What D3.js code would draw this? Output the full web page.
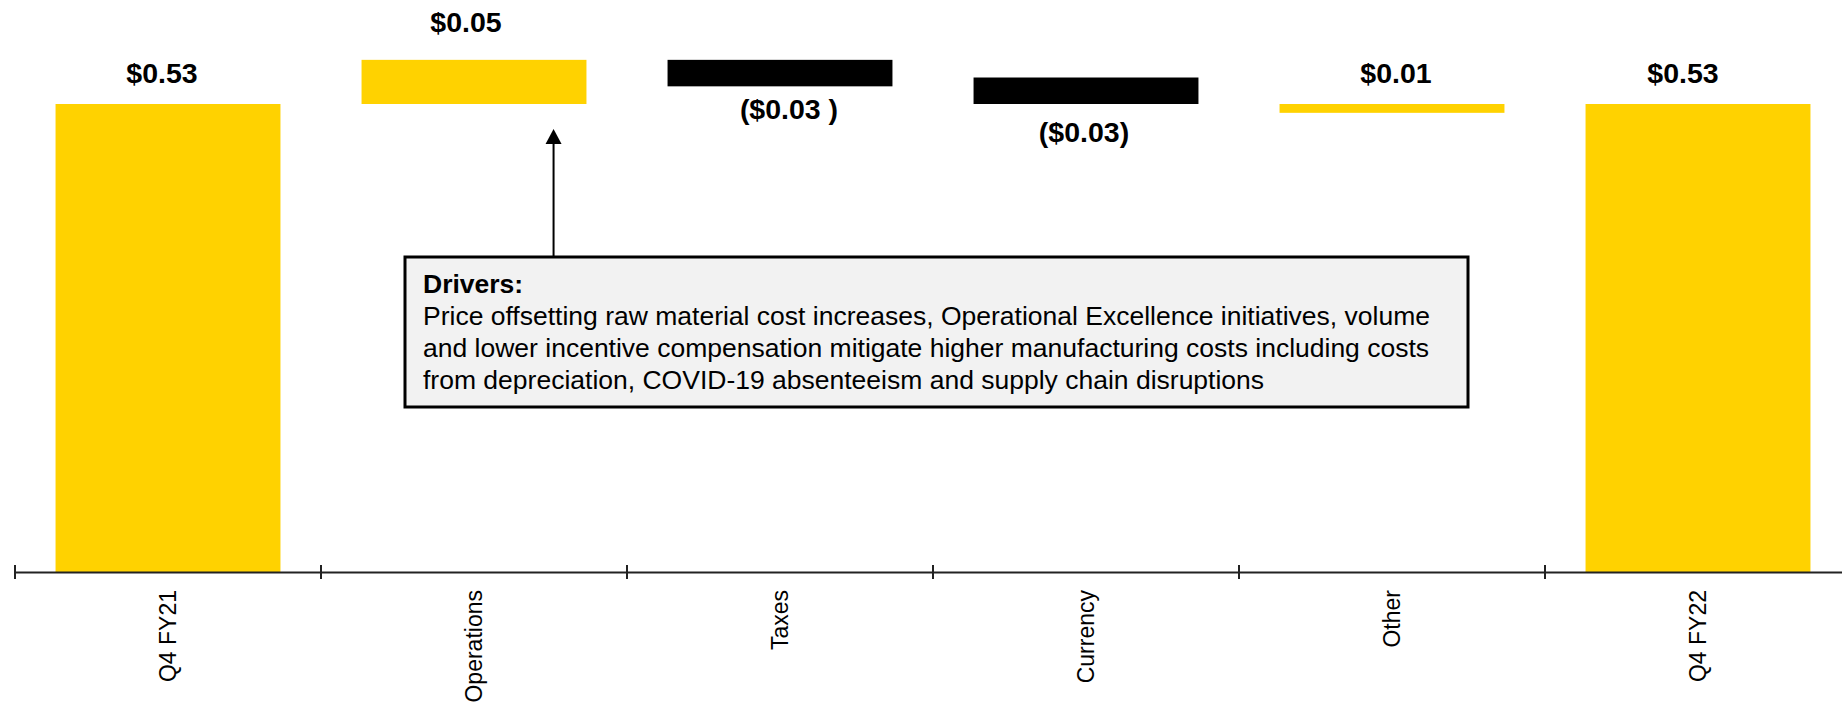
<!DOCTYPE html>
<html>
<head>
<meta charset="utf-8">
<script src="https://cdn.jsdelivr.net/npm/d3@7"></script>
<style>
  body { margin: 0; background: #fff; }
  svg { display: block; font-family: Arial, "Liberation Sans", sans-serif; }
</style>
</head>
<body>
<script>
// EPS bridge data
const categories = ['Q4 FY21', 'Operations', 'Taxes', 'Currency', 'Other', 'Q4 FY22'];
const barLow = [0, 0.53, 0.55, 0.53, 0.52, 0];
const barHigh = [0.53, 0.58, 0.58, 0.56, 0.53, 0.53];
const barKind = ['total', 'up', 'down', 'down', 'up', 'total'];
const valueLabels = ['$0.53', '$0.05', '($0.03 )', '($0.03)', '$0.01', '$0.53'];

const driverTitle = 'Drivers:';
const driverLines = [
    'Price offsetting raw material cost increases, Operational Excellence initiatives, volume',
    'and lower incentive compensation mitigate higher manufacturing costs including costs',
    'from depreciation, COVID-19 absenteeism and supply chain disruptions'
];

// small hand nudges of the value labels, like the original text boxes
const labelNudge = [[-6, 21], [-8, 28], [9, 33], [-2, 38], [4, 21], [-15, 21]];

const width = 1842, height = 705;
const axisY = 572;
const step = 306;
const left = 15;

const svg = d3.select('body').append('svg')
    .attr('width', width)
    .attr('height', height);

const color = d3.scaleOrdinal()
    .domain(['total', 'up', 'down'])
    .range(['#FFD200', '#FFD200', '#000000']);

// bars sit inside each category slot
const x = d3.scaleBand()
    .domain(categories)
    .range([left, left + step * categories.length])
    .paddingInner(0.265)
    .paddingOuter(0.1325);

// slots for the axis (ticks at the slot edges)
const xSlot = d3.scaleBand()
    .domain(categories)
    .range([left, left + step * categories.length]);

const y = d3.scaleLinear().domain([0, 0.53]).range([axisY, 104]);

const data = categories.map((c, i) => ({
    name: c, low: barLow[i], high: barHigh[i], kind: barKind[i], label: valueLabels[i], nudge: labelNudge[i]
}));

svg.append('g').selectAll('rect')
    .data(data)
    .join('rect')
    .attr('x', d => x(d.name))
    .attr('width', x.bandwidth())
    .attr('y', d => y(d.high))
    .attr('height', d => y(d.low) - y(d.high))
    .attr('fill', d => color(d.kind));

// value labels: above for up / totals, below for down
svg.append('g').selectAll('text')
    .data(data)
    .join('text')
    .attr('x', d => x(d.name) + x.bandwidth() / 2 + d.nudge[0])
    .attr('y', d => d.kind === 'down' ? y(d.low) + d.nudge[1] : y(d.high) - d.nudge[1])
    .attr('text-anchor', 'middle')
    .attr('font-size', '28.5px')
    .attr('font-weight', 'bold')
    .attr('fill', '#000')
    .style('white-space', 'pre')
    .text(d => d.label);

// x axis
const xaxis = d3.axisBottom(xSlot).tickSize(0).tickSizeOuter(0);
const g_xaxis = svg.append('g')
    .attr('transform', `translate(0,${axisY})`)
    .call(xaxis);

g_xaxis.select('.domain')
    .attr('stroke', '#222')
    .attr('stroke-width', 2);

g_xaxis.selectAll('.tick text')
    .attr('transform', 'rotate(-90)')
    .attr('x', -18)
    .attr('y', 0)
    .attr('dy', '0.35em')
    .attr('text-anchor', 'end')
    .attr('font-size', '23px')
    .attr('font-family', 'Arial, "Liberation Sans", sans-serif')
    .attr('fill', '#000');

// edge ticks between categories
const edges = categories.map(c => xSlot(c)).concat([xSlot.range()[1]]);
g_xaxis.selectAll('.edge')
    .data(edges)
    .join('line')
    .attr('class', 'edge')
    .attr('x1', d => d).attr('x2', d => d)
    .attr('y1', -7).attr('y2', 7)
    .attr('stroke', '#222')
    .attr('stroke-width', 2);

// drivers call-out with arrow pointing at operations bar
const arrowX = xSlot('Operations') + xSlot.bandwidth() * 0.76;
const box = { x: 405, y: 257, w: 1063, h: 150 };
const tipY = y(0.53) + 25;

svg.append('line')
    .attr('x1', arrowX).attr('x2', arrowX)
    .attr('y1', box.y).attr('y2', tipY + 12)
    .attr('stroke', '#000')
    .attr('stroke-width', 2);

svg.append('path')
    .attr('d', `M${arrowX},${tipY} L${arrowX - 8},${tipY + 15} L${arrowX + 8},${tipY + 15} Z`)
    .attr('fill', '#000');

svg.append('rect')
    .attr('x', box.x).attr('y', box.y)
    .attr('width', box.w).attr('height', box.h)
    .attr('fill', '#F2F2F2')
    .attr('stroke', '#000')
    .attr('stroke-width', 3);

const note = svg.append('text')
    .attr('font-size', '26.5px')
    .attr('fill', '#000');

note.append('tspan')
    .attr('x', box.x + 18)
    .attr('y', box.y + 36)
    .attr('font-weight', 'bold')
    .text(driverTitle);

note.selectAll('.line')
    .data(driverLines)
    .join('tspan')
    .attr('class', 'line')
    .attr('x', box.x + 18)
    .attr('y', (d, i) => box.y + 68 + i * 32)
    .text(d => d);
</script>
</body>
</html>
